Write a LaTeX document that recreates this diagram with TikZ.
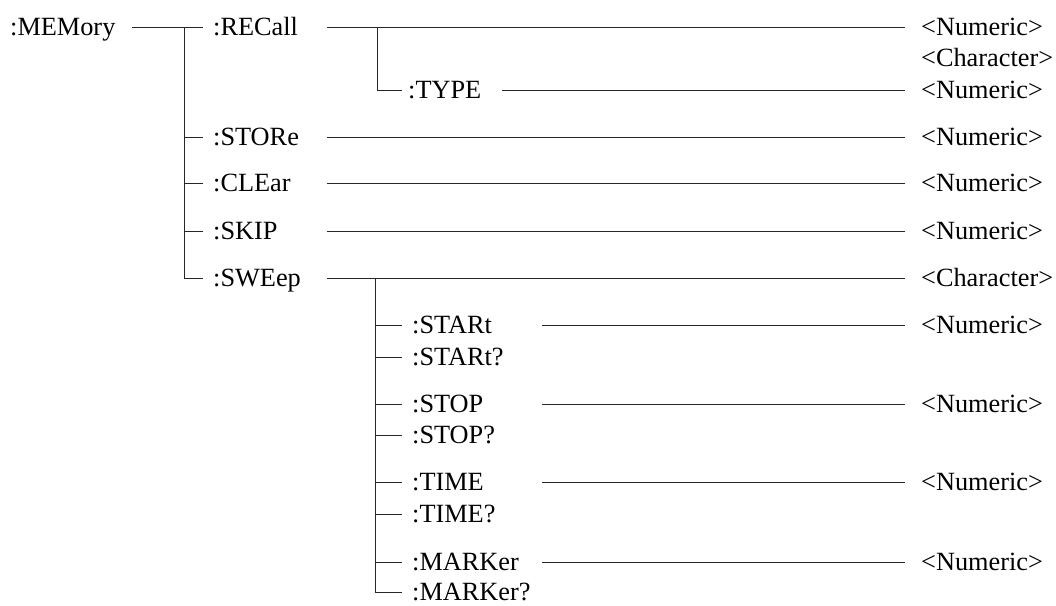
\documentclass[tikz,border=0pt]{standalone}
\usepackage{fontspec}
\setmainfont{Liberation Serif}
\begin{document}
\begin{tikzpicture}[x=1pt,y=-1pt,
  lbl/.style={anchor=west,inner sep=0pt,text height=17.4pt,text depth=0pt,font=\fontsize{26.3}{30}\selectfont},
  ln/.style={line width=1pt,draw=black!85}]
\useasboundingbox (0,0) rectangle (1056,605);
% text nodes
\node[lbl] (mem) at (10,27) {:MEMory};
\node[lbl] (recall) at (213,27) {:RECall};
\node[lbl] (type) at (408,90) {:TYPE};
\node[lbl] (store) at (213,137) {:STORe};
\node[lbl] (clear) at (213,183) {:CLEar};
\node[lbl] (skip) at (213,231) {:SKIP};
\node[lbl] (sweep) at (213,278) {:SWEep};
\node[lbl] (start) at (412,325) {:STARt};
\node[lbl] (startq) at (412,357) {:STARt?};
\node[lbl] (stop) at (412,404) {:STOP};
\node[lbl] (stopq) at (412,435) {:STOP?};
\node[lbl] (time) at (412,482) {:TIME};
\node[lbl] (timeq) at (412,514) {:TIME?};
\node[lbl] (marker) at (412,562) {:MARKer};
\node[lbl] (markerq) at (412,592) {:MARKer?};
% right labels
\node[lbl] (n1) at (921,27) {<Numeric>};
\node[lbl] (c1) at (921,58) {<Character>};
\node[lbl] (n2) at (921,90) {<Numeric>};
\node[lbl] (n3) at (921,137) {<Numeric>};
\node[lbl] (n4) at (921,183) {<Numeric>};
\node[lbl] (n5) at (921,231) {<Numeric>};
\node[lbl] (c2) at (921,278) {<Character>};
\node[lbl] (n6) at (921,325) {<Numeric>};
\node[lbl] (n7) at (921,404) {<Numeric>};
\node[lbl] (n8) at (921,482) {<Numeric>};
\node[lbl] (n9) at (921,562) {<Numeric>};
% column coordinates
\coordinate (cA) at (132,0);
\coordinate (cT) at (184,0);
\coordinate (cB) at (203,0);
\coordinate (cL) at (327,0);
\coordinate (cS) at (377,0);
\coordinate (cS2) at (402,0);
\coordinate (cM) at (502,0);
\coordinate (cW) at (375,0);
\coordinate (cK) at (542,0);
\coordinate (cE) at (905,0);
% main tree
\draw[ln] (mem.east -| cA) -- (recall.west -| cB);
\draw[ln] (recall.west -| cT) |- (sweep.west -| cB);
\foreach \n in {store,clear,skip} \draw[ln] (\n.west -| cT) -- (\n.west -| cB);
% recall
\draw[ln] (recall.east -| cL) -- (n1.west -| cE);
\draw[ln] (recall.east -| cS) |- (type.west -| cS2);
\draw[ln] (type.east -| cM) -- (n2.west -| cE);
% store clear skip sweep
\draw[ln] (store.east -| cL) -- (n3.west -| cE);
\draw[ln] (clear.east -| cL) -- (n4.west -| cE);
\draw[ln] (skip.east -| cL) -- (n5.west -| cE);
\draw[ln] (sweep.east -| cL) -- (c2.west -| cE);
% sweep subtree
\draw[ln] (sweep.east -| cW) |- (markerq.west -| cS2);
\foreach \n in {start,startq,stop,stopq,time,timeq,marker} \draw[ln] (\n.west -| cW) -- (\n.west -| cS2);
\draw[ln] (start.east -| cK) -- (n6.west -| cE);
\draw[ln] (stop.east -| cK) -- (n7.west -| cE);
\draw[ln] (time.east -| cK) -- (n8.west -| cE);
\draw[ln] (marker.east -| cK) -- (n9.west -| cE);
\end{tikzpicture}
\end{document}
